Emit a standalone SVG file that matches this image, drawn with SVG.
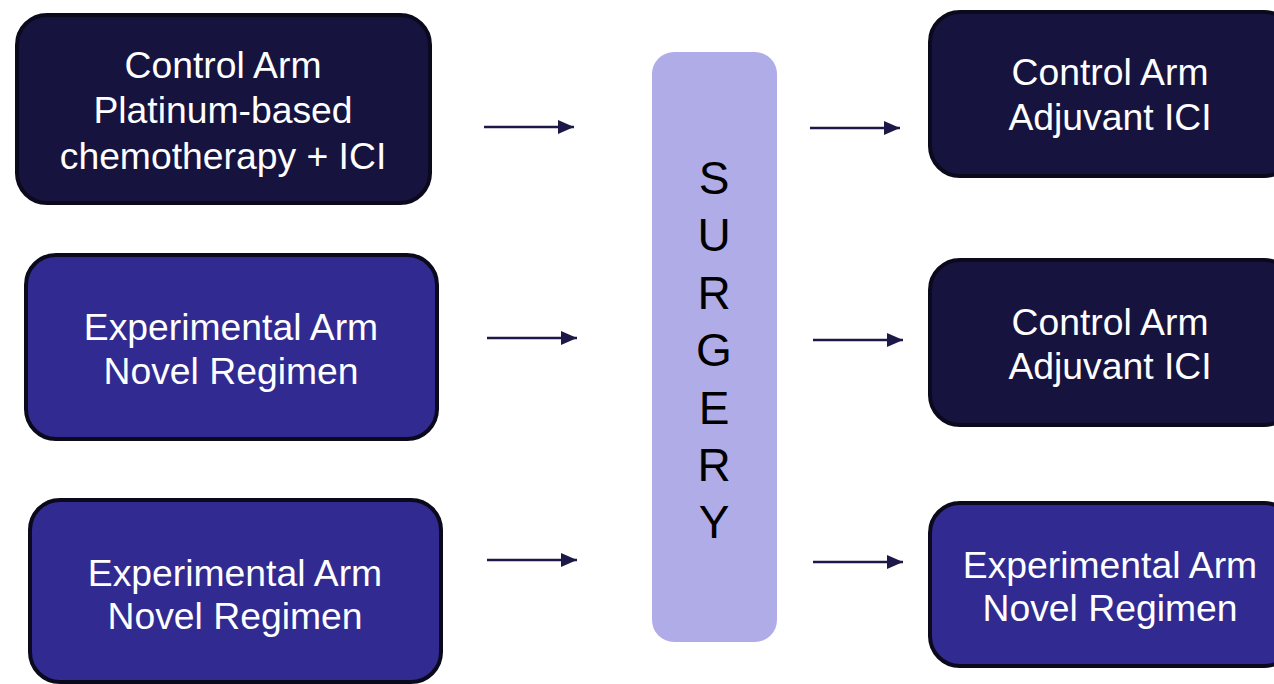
<svg xmlns="http://www.w3.org/2000/svg" width="1274" height="684" viewBox="0 0 1274 684">
<defs>
<style>
.box{stroke:#0b0a1d;stroke-width:4}
.dark{fill:#17133f}
.purple{fill:#312a91}
.t{font-family:"Liberation Sans",Arial,sans-serif;font-size:37.3px;fill:#ffffff;text-anchor:middle}
.s{font-family:"Liberation Sans",Arial,sans-serif;font-size:46px;fill:#000000;text-anchor:middle}
.arr{stroke:#1c1848;stroke-width:2.5;fill:none;marker-end:url(#ah)}
</style>
<marker id="ah" markerUnits="userSpaceOnUse" markerWidth="16" markerHeight="16" viewBox="0 0 16 16" refX="16" refY="8" orient="auto">
<path d="M0,1 L16,8 L0,15 Z" fill="#1c1848"/>
</marker>
</defs>
<rect width="1274" height="684" fill="#ffffff"/>
<g id="control-neoadjuvant">
<rect class="box dark" x="17" y="15" width="413" height="188" rx="30"/>
<text class="t" x="223" y="78">Control Arm</text>
<text class="t" x="223" y="123">Platinum-based</text>
<text class="t" x="223" y="169">chemotherapy + ICI</text>
</g>
<g id="experimental-1">
<rect class="box purple" x="26" y="255" width="411" height="184" rx="30"/>
<text class="t" x="231" y="340">Experimental Arm</text>
<text class="t" x="231" y="384">Novel Regimen</text>
</g>
<g id="experimental-2">
<rect class="box purple" x="30" y="500" width="411" height="182" rx="30"/>
<text class="t" x="235" y="586">Experimental Arm</text>
<text class="t" x="235" y="629">Novel Regimen</text>
</g>
<g id="surgery">
<rect x="652" y="52" width="125" height="590" rx="22" fill="#b0ace8"/>
<text class="s" x="714" y="194">S</text>
<text class="s" x="714" y="251">U</text>
<text class="s" x="714" y="309">R</text>
<text class="s" x="714" y="366">G</text>
<text class="s" x="714" y="424">E</text>
<text class="s" x="714" y="481">R</text>
<text class="s" x="714" y="538">Y</text>
</g>
<g id="control-adjuvant-1">
<rect class="box dark" x="930" y="12" width="364" height="164" rx="30"/>
<text class="t" x="1110" y="85">Control Arm</text>
<text class="t" x="1110" y="130">Adjuvant ICI</text>
</g>
<g id="control-adjuvant-2">
<rect class="box dark" x="930" y="260" width="364" height="165" rx="30"/>
<text class="t" x="1110" y="335">Control Arm</text>
<text class="t" x="1110" y="379">Adjuvant ICI</text>
</g>
<g id="experimental-adjuvant">
<rect class="box purple" x="930" y="503" width="364" height="163" rx="30"/>
<text class="t" x="1110" y="578">Experimental Arm</text>
<text class="t" x="1110" y="621">Novel Regimen</text>
</g>
<g id="connectors">
<line class="arr" x1="484" y1="127" x2="574" y2="127"/>
<line class="arr" x1="487" y1="338" x2="577" y2="338"/>
<line class="arr" x1="487" y1="560" x2="577" y2="560"/>
<line class="arr" x1="810" y1="128" x2="900" y2="128"/>
<line class="arr" x1="813" y1="340" x2="903" y2="340"/>
<line class="arr" x1="813" y1="562" x2="903" y2="562"/>
</g>
</svg>
